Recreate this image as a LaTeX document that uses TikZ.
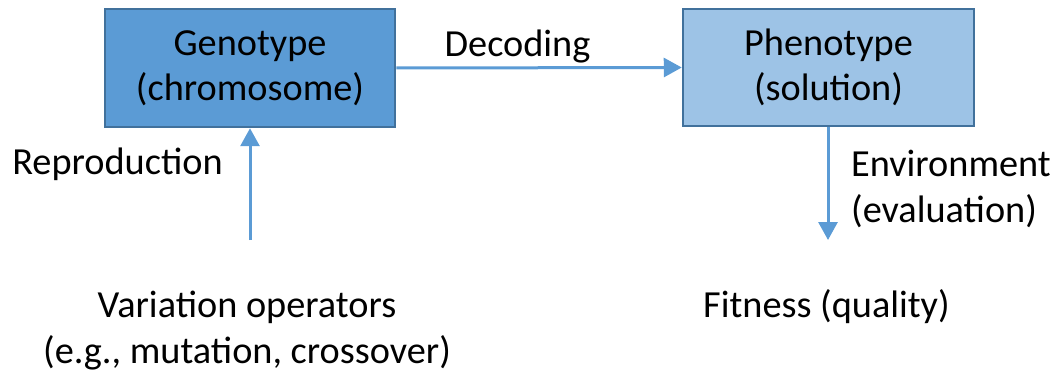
\documentclass[tikz,border=0pt]{standalone}
\usepackage{fontspec}
\setmainfont{Carlito}
\usetikzlibrary{arrows.meta}
\definecolor{darkfill}{HTML}{5B9BD5}
\definecolor{lightfill}{HTML}{9DC3E6}
\definecolor{boxborder}{HTML}{41719C}
\definecolor{arrowblue}{HTML}{5B9BD5}
\tikzset{
  every node/.style={font=\fontsize{38.3}{45.5}\selectfont, inner sep=0pt},
  block/.style={draw=boxborder, line width=2.5pt, minimum width=290pt, minimum height=118pt, align=center},
  conn/.style={draw=arrowblue, line width=3pt, -{Triangle[length=18pt,width=19pt]}},
  lbl/.style={align=center}
}
\begin{document}
\begin{tikzpicture}[x=1pt,y=-1pt]
\useasboundingbox (0,0) rectangle (1056,374);
\node[block, fill=darkfill] (geno) at (250,68) {Genotype\\(chromosome)};
\node[block, fill=lightfill, minimum width=291pt, minimum height=117pt] (pheno) at (828.5,67.5) {Phenotype\\(solution)};
\node[anchor=base] (dec) at (517.5,57) {Decoding};
\node[anchor=base] (rep) at (117.5,175) {Reproduction};
\node[anchor=west, align=left] (env) at (851,189) {Environment\\(evaluation)};
\node[lbl] (var) at (247,330.5) {Variation operators\\(e.g., mutation, crossover)};
\node[anchor=base] (fit) at (826.5,317) {Fitness (quality)};
\coordinate (varTop) at (250,240);
\coordinate (fitTop) at (828,240);
\draw[conn] (geno.east) -- (pheno.west);
\draw[conn] (varTop) -- (geno.south);
\draw[conn] (pheno.south -| fitTop) -- (fitTop);
\end{tikzpicture}
\end{document}
